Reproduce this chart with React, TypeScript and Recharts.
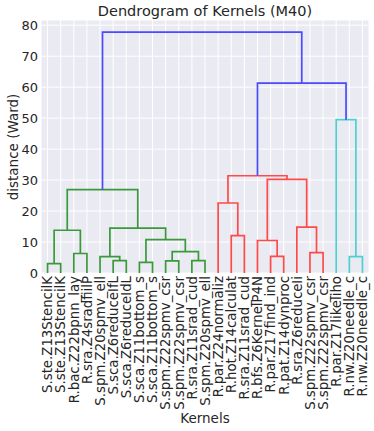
import React from 'react';
import { ComposedChart, Line, XAxis, YAxis, CartesianGrid, Customized } from 'recharts';

const leafLabels = [
  'S.ste.Z13StencilK', 'S.ste.Z13StencilK', 'R.bac.Z22bpnn_lay', 'R.sra.Z4sradfiilP',
  'S.spm.Z20spmv_ell', 'S.sca.Z6reduceIfL', 'S.sca.Z6reduceIdL', 'S.sca.Z11bottom_s',
  'S.sca.Z11bottom_s', 'S.spm.Z22spmv_csr', 'S.spm.Z22spmv_csr', 'R.sra.Z11srad_cud',
  'S.spm.Z20spmv_ell', 'R.par.Z24normaliz', 'R.hot.Z14calculat', 'R.sra.Z11srad_cud',
  'R.bfs.Z6KernelP4N', 'R.par.Z17find_ind', 'R.pat.Z14dynproc', 'R.sra.Z6reduceIi',
  'S.spm.Z22spmv_csr', 'S.spm.Z22spmv_csr', 'R.par.Z17likeliho', 'R.nw.Z20needle_c',
  'R.nw.Z20needle_c',
];

// linkage: leaves are ids 0..24, merge k gets id 25+k
const mergeLeft = [0, 2, 25, 5, 4, 7, 9, 11, 31, 30, 29, 27, 14, 13, 17, 16, 20, 19, 40, 38, 23, 22, 44, 36];
const mergeRight = [1, 3, 26, 6, 28, 8, 10, 12, 32, 33, 34, 35, 15, 37, 18, 39, 21, 41, 42, 43, 24, 45, 46, 47];
const mergeHeight = [3.0, 6.3, 13.8, 4.0, 5.3, 3.4, 3.9, 4.0, 6.9, 10.8, 14.5, 26.9, 12.1, 22.6, 5.4, 10.5, 6.6, 14.8, 30.2, 31.4, 5.3, 49.5, 61.3, 77.8];
const mergeCluster = ['g', 'g', 'g', 'g', 'g', 'g', 'g', 'g', 'g', 'g', 'g', 'g', 'r', 'r', 'r', 'r', 'r', 'r', 'r', 'r', 'c', 'c', 'b', 'b'];

const yTicks = [0, 10, 20, 30, 40, 50, 60, 70, 80];

const clusterColors: Record<string, string> = {
  g: '#3a9a3a',
  r: '#ff4a4a',
  c: '#4fd0d0',
  b: '#4a4aff',
};

const FONT = 'DejaVu Sans, sans-serif';
const TEXT = '#262626';

const nodeX: number[] = leafLabels.map((_, i) => 5 + 10 * i);
const nodeY: number[] = leafLabels.map(() => 0);
mergeHeight.forEach((h, k) => {
  nodeX.push((nodeX[mergeLeft[k]] + nodeX[mergeRight[k]]) / 2);
  nodeY.push(h);
});

const links = mergeHeight.map((h, k) => {
  const l = mergeLeft[k];
  const r = mergeRight[k];
  return {
    color: clusterColors[mergeCluster[k]],
    data: [
      { x: nodeX[l], y: nodeY[l] },
      { x: nodeX[l], y: h },
      { x: nodeX[r], y: h },
      { x: nodeX[r], y: nodeY[r] },
    ],
  };
});

const leafTicks = leafLabels.map((_, i) => nodeX[i]);
const xMax = leafLabels.length * 10;
const yMax = Math.max(...mergeHeight) * 1.05;

const XTick = (props: any) => {
  const { x, y, payload } = props;
  const idx = Math.round((payload.value - 5) / 10);
  return (
    <text
      x={0}
      y={0}
      transform={`translate(${x},${y - 5}) rotate(-90)`}
      textAnchor="end"
      dy="0.36em"
      fontSize={13.3}
      fontFamily={FONT}
      fill={TEXT}
    >
      {leafLabels[idx]}
    </text>
  );
};

const YTick = (props: any) => {
  const { y, payload } = props;
  return (
    <text x={38} y={y} dy="0.36em" textAnchor="end" fontSize={13} fontFamily={FONT} fill={TEXT}>
      {payload.value}
    </text>
  );
};

const Title = () => (
  <g>
    <text x={205} y={16} textAnchor="middle" fontSize={14.5} fontFamily={FONT} fill={TEXT}>
      Dendrogram of Kernels (M40)
    </text>
    <text
      x={0}
      y={0}
      transform="translate(13,147) rotate(-90)"
      textAnchor="middle"
      dy="0.36em"
      fontSize={13.5}
      fontFamily={FONT}
      fill={TEXT}
    >
      distance (Ward)
    </text>
    <text x={205} y={423} textAnchor="middle" fontSize={13.5} fontFamily={FONT} fill={TEXT}>
      Kernels
    </text>
  </g>
);

export default function App() {
  return (
    <div style={{ position: 'absolute', left: 0, top: 0, width: 374, height: 431 }}>
      <ComposedChart width={374} height={431} margin={{ top: 20, right: 5, bottom: 0, left: 0 }}>
        <CartesianGrid fill="#EAEAF2" stroke="#ffffff" strokeWidth={1} />
        <XAxis
          type="number"
          dataKey="x"
          domain={[0, xMax]}
          ticks={leafTicks}
          interval={0}
          height={158}
          tickLine={false}
          axisLine={false}
          tick={<XTick />}
          allowDataOverflow
        />
        <YAxis
          type="number"
          domain={[0, yMax]}
          ticks={yTicks}
          width={41}
          tickLine={false}
          axisLine={false}
          tick={<YTick />}
          allowDataOverflow
        />
        {links.map((lk, i) => (
          <Line
            key={i}
            data={lk.data}
            dataKey="y"
            type="linear"
            stroke={lk.color}
            strokeWidth={1.7}
            dot={false}
            activeDot={false}
            isAnimationActive={false}
          />
        ))}
        <Customized component={Title} />
      </ComposedChart>
    </div>
  );
}
